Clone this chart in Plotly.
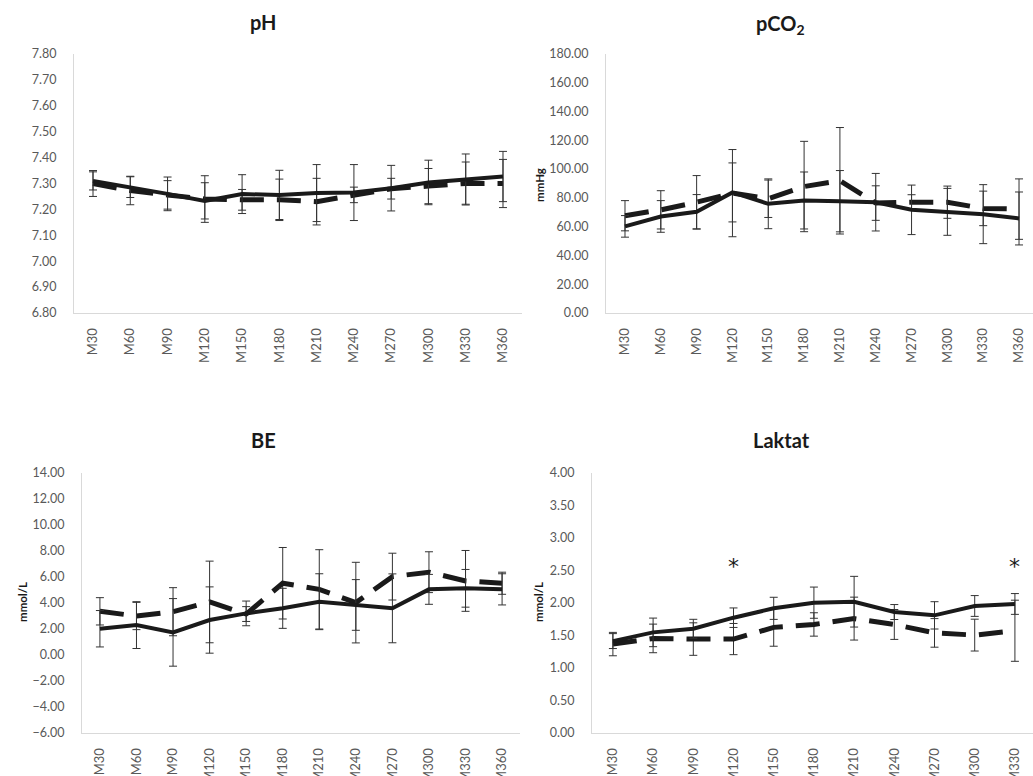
import plotly.graph_objects as go

W, H = 1033, 776

cats = ["M30", "M60", "M90", "M120", "M150", "M180", "M210", "M240", "M270", "M300", "M330", "M360"]
cats_lak = cats[:11]

# pH
ph_solid = [7.31, 7.286, 7.26, 7.233, 7.259, 7.256, 7.263, 7.265, 7.282, 7.304, 7.317, 7.327]
ph_solid_sd = [0.035, 0.04, 0.065, 0.07, 0.075, 0.095, 0.11, 0.108, 0.088, 0.086, 0.097, 0.097]
ph_dash = [7.30, 7.273, 7.256, 7.24, 7.237, 7.237, 7.23, 7.256, 7.28, 7.29, 7.30, 7.30]
ph_dash_sd = [0.05, 0.055, 0.055, 0.09, 0.04, 0.08, 0.09, 0.03, 0.04, 0.068, 0.083, 0.093]

# pCO2
pco2_solid = [60.2, 67.1, 70.3, 83.8, 75.9, 78.2, 77.7, 77.0, 71.7, 70.3, 68.7, 65.7]
pco2_solid_sd = [7.5, 11.0, 12.0, 20.5, 17.3, 19.8, 21.3, 20.0, 17.2, 16.3, 20.5, 18.4]
pco2_dash = [67.6, 71.7, 77.0, 83.3, 79.4, 87.9, 91.9, 76.4, 77.0, 77.0, 72.7, 72.2]
pco2_dash_sd = [10.5, 13.3, 18.5, 30.3, 13.0, 31.4, 37.0, 12.0, 5.2, 11.2, 12.0, 21.0]

# BE
be_solid = [2.02, 2.30, 1.74, 2.69, 3.2, 3.59, 4.1, 3.85, 3.59, 5.05, 5.13, 5.05]
be_solid_sd = [1.4, 1.8, 2.6, 2.55, 0.95, 1.54, 2.15, 1.95, 2.65, 1.15, 1.45, 1.2]
be_dash = [3.36, 3.0, 3.33, 4.08, 3.15, 5.52, 5.05, 4.03, 6.03, 6.37, 5.70, 5.52]
be_dash_sd = [1.05, 1.05, 1.85, 3.14, 0.57, 2.75, 3.05, 3.1, 1.8, 1.57, 2.34, 0.85]

# Laktat
lak_solid = [1.414, 1.548, 1.604, 1.774, 1.918, 2.005, 2.02, 1.861, 1.81, 1.954, 1.985]
lak_solid_sd = [0.115, 0.22, 0.145, 0.15, 0.17, 0.24, 0.39, 0.115, 0.21, 0.16, 0.16]
lak_dash = [1.368, 1.455, 1.445, 1.445, 1.625, 1.67, 1.76, 1.67, 1.54, 1.506, 1.573]
lak_dash_sd = [0.18, 0.22, 0.25, 0.24, 0.29, 0.18, 0.33, 0.23, 0.22, 0.245, 0.47]
lak_star_cats = ["M120", "M330"]
lak_star_y = 2.56

titles = ["pH", "pCO<sub>2</sub>", "BE", "Laktat"]

FONT = "Lato"
LINE = "#1a1a1a"
ERR = "#333333"
TICKC = "#595959"
AXC = "#d9d9d9"

fig = go.Figure()


def add_pair(x, ys, ys_sd, yd, yd_sd, ax):
    xa = "x" if ax == 1 else f"x{ax}"
    ya = "y" if ax == 1 else f"y{ax}"
    fig.add_trace(go.Scatter(
        x=x, y=yd, mode="lines", xaxis=xa, yaxis=ya, showlegend=False,
        line=dict(color=LINE, width=5, dash="24px,13px"),
        error_y=dict(type="data", array=yd_sd, visible=True, color=ERR, thickness=1, width=4)))
    fig.add_trace(go.Scatter(
        x=x, y=ys, mode="lines", xaxis=xa, yaxis=ya, showlegend=False,
        line=dict(color=LINE, width=4),
        error_y=dict(type="data", array=ys_sd, visible=True, color=ERR, thickness=1, width=4)))


add_pair(cats, ph_solid, ph_solid_sd, ph_dash, ph_dash_sd, 1)
add_pair(cats, pco2_solid, pco2_solid_sd, pco2_dash, pco2_dash_sd, 2)
add_pair(cats, be_solid, be_solid_sd, be_dash, be_dash_sd, 3)
add_pair(cats_lak, lak_solid, lak_solid_sd, lak_dash, lak_dash_sd, 4)


def PX(px):
    return min(max(px / W, 0.0), 1.0)


def PY(py):
    return min(max(1 - py / H, 0.0), 1.0)


def dom_x(a, b):
    return [PX(a), PX(b)]


def dom_y(top, bot):
    return [PY(bot), PY(top)]


xcommon = dict(type="category", showline=True, linecolor=AXC, linewidth=1, showgrid=False,
               zeroline=False, tickangle=-90, ticks="", ticklabelstandoff=9, automargin=False,
               tickfont=dict(family=FONT, size=13, color=TICKC))
ycommon = dict(showline=True, linecolor=AXC, linewidth=1, showgrid=False, zeroline=False,
               ticks="", ticklabelstandoff=14, tickformat=".2f", automargin=False,
               tickfont=dict(family=FONT, size=12.5, color=TICKC))

# pCO2 / Laktat panels run past the right edge of the picture: range computed for the visible part
fig.update_layout(
    width=W, height=H, autosize=False,
    margin=dict(l=0, r=0, t=0, b=0, pad=0),
    paper_bgcolor="white", plot_bgcolor="white",
    xaxis=dict(xcommon, domain=dom_x(74, 522), range=[-0.51, 11.51], anchor="y"),
    yaxis=dict(ycommon, domain=dom_y(54, 313), range=[6.8, 7.8], dtick=0.1, anchor="x"),
    xaxis2=dict(xcommon, domain=dom_x(606, 1033), range=[-0.53, 11.39], anchor="y2"),
    yaxis2=dict(ycommon, domain=dom_y(54, 313), range=[0, 180], dtick=20, anchor="x2"),
    xaxis3=dict(xcommon, domain=dom_x(82, 520), range=[-0.49, 11.49], anchor="y3"),
    yaxis3=dict(ycommon, domain=dom_y(473, 733), range=[-6, 14], dtick=2, anchor="x3"),
    xaxis4=dict(xcommon, domain=dom_x(592, 1033), range=[-0.52, 10.45], anchor="y4"),
    yaxis4=dict(ycommon, domain=dom_y(473, 733), range=[0, 4], dtick=0.5, anchor="x4"),
)

title_pos = [(263, 22), (780, 24), (263, 440), (781, 440)]
for t, (px, py) in zip(titles, title_pos):
    fig.add_annotation(text=f"<b>{t}</b>", x=PX(px), y=PY(py), xref="paper", yref="paper",
                       xanchor="center", yanchor="middle", showarrow=False,
                       font=dict(family=FONT, size=20, color="#1a1a1a"))

ylabels = [("mmHg", 539, 185), ("mmol/L", 22, 602), ("mmol/L", 538, 602)]
for t, px, py in ylabels:
    fig.add_annotation(text=f"<b>{t}</b>", x=PX(px), y=PY(py), xref="paper", yref="paper",
                       xanchor="center", yanchor="middle", showarrow=False, textangle=-90,
                       font=dict(family=FONT, size=11.5, color="#1a1a1a"))

for c in lak_star_cats:
    fig.add_annotation(text="*", x=c, y=lak_star_y, xref="x4", yref="y4",
                       xanchor="center", yanchor="middle", showarrow=False,
                       font=dict(family="DejaVu Sans", size=22, color="#1a1a1a"))

fig.write_html(
    "out.html",
    config={"displayModeBar": False},
    post_script="document.body.style.margin='0';document.body.style.overflow='hidden';",
)
